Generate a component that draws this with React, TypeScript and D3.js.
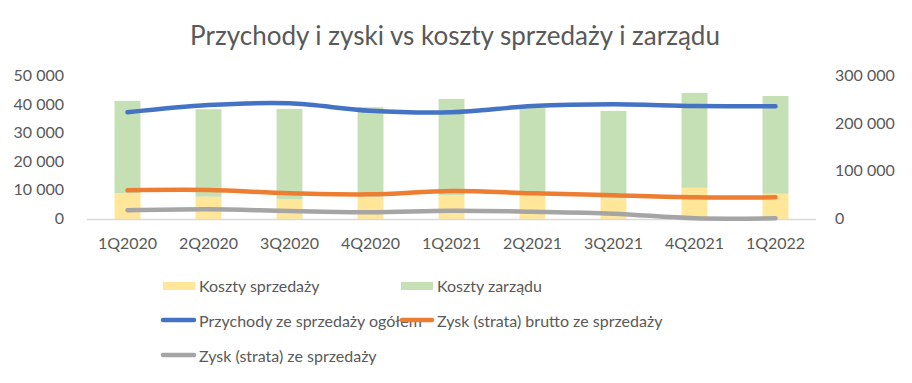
import React from "react";
import * as d3 from "d3";

const categories = ["1Q2020", "2Q2020", "3Q2020", "4Q2020", "1Q2021", "2Q2021", "3Q2021", "4Q2021", "1Q2022"];
const kosztySprzedazy = [9000, 7800, 7000, 7800, 8400, 8400, 7200, 10900, 8800];
const kosztyZarzadu = [32300, 30600, 31500, 31300, 33600, 30500, 30600, 33200, 34200];
const przychody = [223800, 239000, 242700, 227000, 224000, 237000, 240600, 237000, 236400];
const zyskBrutto = [60200, 60800, 54000, 51800, 58700, 54000, 49700, 45500, 45500];
const zyskSprzedazy = [18200, 20300, 16800, 14000, 17500, 15300, 11200, 1500, 1500];
const leftTicks = [0, 10000, 20000, 30000, 40000, 50000];
const rightTicks = [0, 100000, 200000, 300000];

const TITLE = "Przychody i zyski vs koszty sprzedaży i zarządu";
const TXT = "#595959";
const FONT = "Lato, 'Open Sans', sans-serif";
const C_YELLOW = "#FFE699";
const C_GREEN = "#C5E0B4";
const C_BLUE = "#4472C4";
const C_ORANGE = "#ED7D31";
const C_GRAY = "#A5A5A5";

const locale = d3.formatLocale({ decimal: ",", thousands: "\u00a0", grouping: [3], currency: ["", " zł"] });
const fmt = locale.format(",.0f");

export default function App() {
  const W = 912, H = 383;
  const x = d3.scalePoint<string>().domain(categories).range([87, 816]).padding(0.5);
  const step = x.step();
  const barW = step * 0.32;
  const yL = d3.scaleLinear().domain([0, 50000]).range([219, 76]);
  const yR = d3.scaleLinear().domain([0, 300000]).range([219, 76]);

  const line = (vals: number[]) =>
    d3.line<number>()
      .x((_, i) => x(categories[i])!)
      .y((v) => yR(v))
      .curve(d3.curveCatmullRom.alpha(0.5))(vals) || "";

  const series = [
    { vals: przychody, color: C_BLUE },
    { vals: zyskBrutto, color: C_ORANGE },
    { vals: zyskSprzedazy, color: C_GRAY },
  ];

  return (
    <svg width={W} height={H} style={{ position: "absolute", left: 0, top: 0, background: "#fff" }} fontFamily={FONT}>
      <rect x={0} y={0} width={W} height={H} fill="#fff" />
      <text x={455} y={45} textAnchor="middle" fontSize={26} fill={TXT}>{TITLE}</text>

      {leftTicks.map((t) => (
        <text key={"l" + t} x={64} y={yL(t) + 5} textAnchor="end" fontSize={16} fill={TXT}>{fmt(t)}</text>
      ))}
      {rightTicks.map((t) => (
        <text key={"r" + t} x={835} y={yR(t) + 5} textAnchor="start" fontSize={16} fill={TXT}>{fmt(t)}</text>
      ))}

      {categories.map((c, i) => {
        const cx = x(c)!;
        const s = kosztySprzedazy[i];
        const z = kosztyZarzadu[i];
        return (
          <g key={c}>
            <rect x={cx - barW / 2} y={yL(s)} width={barW} height={yL(0) - yL(s)} fill={C_YELLOW} />
            <rect x={cx - barW / 2} y={yL(s + z)} width={barW} height={yL(s) - yL(s + z)} fill={C_GREEN} />
            <text x={cx} y={249} textAnchor="middle" fontSize={16} fill={TXT}>{c}</text>
          </g>
        );
      })}

      <line x1={87} x2={816} y1={219.5} y2={219.5} stroke="#D9D9D9" strokeWidth={1.3} />

      {series.map((s, i) => (
        <path key={i} d={line(s.vals)} fill="none" stroke={s.color} strokeWidth={4.5} strokeLinecap="round" strokeLinejoin="round" />
      ))}

      <g fontSize={16} fill={TXT}>
        <rect x={163} y={282} width={32} height={8} fill={C_YELLOW} />
        <text x={199} y={292}>Koszty sprzedaży</text>
        <rect x={401} y={282} width={32} height={8} fill={C_GREEN} />
        <text x={437} y={292}>Koszty zarządu</text>

        <line x1={163} x2={194} y1={320} y2={320} stroke={C_BLUE} strokeWidth={4.5} strokeLinecap="round" />
        <text x={199} y={327}>Przychody ze sprzedaży ogółem</text>
        <line x1={402} x2={432} y1={320} y2={320} stroke={C_ORANGE} strokeWidth={4.5} strokeLinecap="round" />
        <text x={437} y={327}>Zysk (strata) brutto ze sprzedaży</text>

        <line x1={163} x2={194} y1={355} y2={355} stroke={C_GRAY} strokeWidth={4.5} strokeLinecap="round" />
        <text x={199} y={362}>Zysk (strata) ze sprzedaży</text>
      </g>
    </svg>
  );
}
